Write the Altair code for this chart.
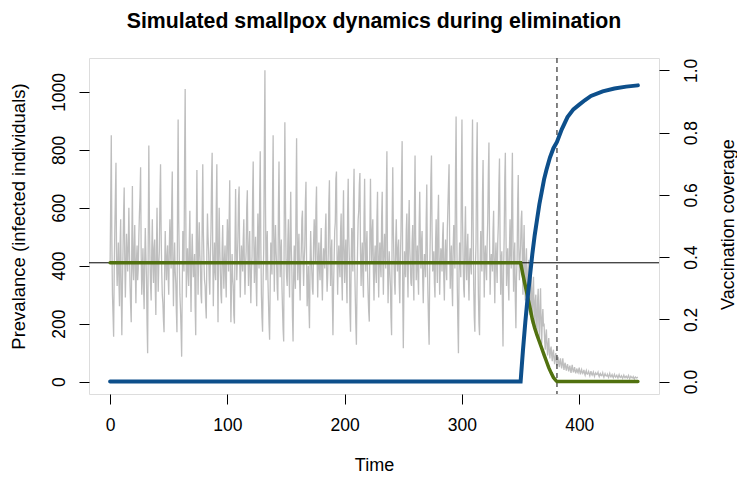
import altair as alt
import pandas as pd

# ---- data ----
# prevalence at integer times 0..450
prevalence = [
    410, 850, 300, 155, 520, 755, 330, 480, 260, 560,
    160, 450, 670, 290, 510, 380, 600, 330, 205, 675,
    350, 540, 270, 470, 390, 580, 740, 300, 460, 250,
    530, 360, 98, 815, 420, 280, 560, 340, 490, 230,
    600, 310, 450, 750, 380, 270, 170, 520, 350, 470,
    300, 560, 390, 725, 260, 480, 340, 170, 905, 420,
    250, 86, 520, 380, 1010, 290, 460, 330, 590, 240,
    510, 360, 440, 160, 730, 300, 550, 390, 270, 750,
    420, 330, 218, 580, 450, 300, 520, 790, 260, 480,
    350, 750, 205, 600, 380, 270, 540, 320, 470, 290,
    560, 380, 695, 205, 440, 330, 200, 665, 350, 500,
    673, 290, 470, 380, 560, 300, 450, 660, 330, 520,
    270, 430, 760, 340, 500, 260, 580, 390, 795, 300,
    172, 460, 1075, 350, 520, 280, 144, 480, 370, 850,
    310, 540, 400, 280, 760, 360, 490, 250, 138, 895,
    420, 330, 560, 290, 655, 380, 138, 470, 320, 840,
    350, 510, 280, 450, 590, 330, 470, 690, 260, 400,
    184, 520, 380, 300, 560, 410, 673, 290, 480, 350,
    530, 280, 460, 390, 580, 310, 440, 695, 330, 490,
    160, 420, 550, 725, 300, 470, 360, 580, 280, 660,
    340, 490, 270, 700, 420, 172, 530, 380, 735, 300,
    127, 460, 590, 720, 330, 480, 290, 700, 380, 520,
    300, 207, 700, 410, 560, 280, 470, 340, 655, 290,
    480, 360, 655, 300, 510, 390, 795, 270, 450, 330,
    160, 740, 420, 300, 560, 380, 490, 270, 520, 830,
    115, 450, 360, 580, 290, 627, 400, 330, 540, 280,
    780, 350, 470, 300, 655, 390, 520, 270, 440, 360,
    680, 300, 127, 510, 780, 380, 450, 290, 560, 340,
    645, 300, 460, 380, 550, 280, 490, 350, 600, 750,
    320, 470, 260, 540, 390, 915, 330, 98, 480, 360,
    905, 420, 290, 605, 350, 510, 280, 460, 370, 905,
    330, 172, 480, 895, 300, 160, 520, 380, 765, 290,
    470, 350, 560, 825, 300, 440, 380, 590, 270, 480,
    340, 540, 770, 300, 450, 121, 500, 790, 330, 460,
    280, 560, 390, 790, 310, 480, 184, 420, 713, 350,
    470, 590, 300, 540, 280, 460, 250, 420, 230, 380,
    200, 362, 180, 300, 160, 320, 140, 322, 130, 250,
    200, 110, 180, 90, 150, 80, 121, 70, 110, 60,
    98, 55, 85, 50, 80, 45, 80, 40, 65, 38,
    60, 35, 55, 30, 58, 32, 50, 28, 45, 30,
    48, 25, 42, 28, 40, 22, 38, 26, 35, 20,
    36, 22, 33, 18, 30, 24, 32, 17, 28, 20,
    30, 15, 27, 19, 25, 14, 28, 16, 24, 13,
    25, 15, 22, 12, 24, 14, 20, 11, 22, 13,
    19, 12, 21, 10, 18, 13, 17, 9, 16, 12,
    15,
]
# prevalence at half times 0.5..449.5
prevalence_half = [
    620, 480, 230, 380, 640, 420, 400, 350, 470, 300,
    330, 580, 420, 400, 440, 470, 450, 260, 480, 390,
    460, 380, 420, 350, 500, 640, 430, 390, 330, 420,
    440, 200, 480, 560, 330, 450, 410, 460, 320, 450,
    430, 400, 640, 520, 300, 210, 390, 420, 430, 360,
    470, 450, 600, 420, 400, 380, 240, 620, 560, 300,
    180, 330, 440, 760, 600, 400, 380, 480, 380, 420,
    420, 390, 260, 500, 470, 460, 440, 300, 560, 520,
    350, 260, 450, 500, 350, 430, 700, 450, 400, 380,
    600, 420, 450, 460, 300, 460, 400, 420, 360, 460,
    480, 560, 400, 320, 360, 230, 480, 470, 420, 630,
    420, 400, 420, 490, 390, 400, 600, 440, 460, 360,
    380, 640, 500, 420, 340, 450, 450, 640, 480, 220,
    360, 800, 600, 460, 360, 200, 340, 420, 640, 500,
    460, 450, 320, 600, 500, 440, 330, 180, 600, 620,
    360, 480, 390, 500, 460, 220, 360, 360, 620, 520,
    450, 360, 400, 560, 420, 420, 620, 420, 320, 260,
    400, 430, 320, 480, 500, 600, 420, 420, 390, 460,
    360, 400, 420, 520, 400, 360, 620, 460, 450, 280,
    320, 520, 700, 420, 420, 400, 520, 360, 520, 450,
    440, 360, 580, 500, 240, 400, 480, 620, 420, 200,
    320, 560, 680, 440, 420, 360, 560, 480, 460, 380,
    240, 520, 500, 520, 380, 420, 380, 560, 420, 420,
    400, 560, 420, 440, 440, 640, 420, 380, 380, 220,
    560, 520, 340, 480, 440, 460, 340, 420, 700, 300,
    320, 400, 520, 400, 520, 460, 340, 480, 360, 600,
    500, 420, 360, 540, 480, 480, 360, 380, 420, 560,
    420, 200, 380, 700, 520, 400, 340, 480, 420, 560,
    420, 400, 440, 500, 360, 420, 400, 520, 680, 480,
    420, 330, 460, 480, 720, 560, 200, 380, 420, 720,
    560, 320, 500, 420, 460, 360, 420, 400, 720, 560,
    220, 400, 760, 480, 200, 400, 420, 640, 480, 420,
    400, 480, 720, 500, 400, 420, 520, 380, 420, 400,
    480, 680, 480, 420, 260, 380, 700, 520, 420, 340,
    460, 440, 640, 480, 420, 280, 360, 620, 460, 420,
    560, 420, 460, 380, 400, 330, 380, 300, 340, 260,
    320, 240, 280, 200, 280, 200, 260, 200, 220, 190,
    140, 160, 120, 130, 100, 110, 90, 100, 80, 85,
    70, 75, 62, 70, 58, 65, 55, 58, 48, 52,
    45, 48, 40, 46, 42, 40, 36, 38, 34, 40,
    33, 36, 32, 34, 28, 32, 27, 30, 26, 29,
    26, 28, 24, 26, 25, 27, 22, 25, 21, 24,
    20, 22, 21, 20, 18, 22, 19, 20, 17, 19,
    18, 19, 16, 18, 17, 16, 15, 17, 16, 17,
    14, 16, 15, 14, 15, 13, 12, 14, 13, 14,
]

mean_time = [0, 350, 352, 354, 356, 358, 360, 362, 364, 366, 368, 370,
             372, 374, 376, 378, 380, 381, 450]
mean_prev = [410, 410, 368, 330, 292, 255, 215, 185, 160, 138, 115, 92,
             70, 48, 30, 14, 4, 0, 0]

vacc_time = [0, 350, 351, 352, 354, 356, 358, 360, 362, 364, 366, 368, 370,
             372, 375, 378, 381, 385, 390, 395, 400, 405, 410, 420, 430,
             440, 450]
vacc_cov = [0, 0, 0.05, 0.10, 0.19, 0.27, 0.34, 0.41, 0.47, 0.52, 0.57,
            0.61, 0.65, 0.68, 0.72, 0.75, 0.77, 0.81, 0.85, 0.875, 0.89,
            0.905, 0.918, 0.933, 0.942, 0.948, 0.952]

threshold = [410]
elimination_time = [381]

x_ticks = [0, 100, 200, 300, 400]
left_ticks = [0, 200, 400, 600, 800, 1000]
right_ticks = [0.0, 0.2, 0.4, 0.6, 0.8, 1.0]

# ---- tables ----
rows_t, rows_v = [], []
for i in range(len(prevalence_half)):
    rows_t += [i, i + 0.5]
    rows_v += [prevalence[i], prevalence_half[i]]
rows_t.append(len(prevalence_half))
rows_v.append(prevalence[len(prevalence_half)])

df_prev = pd.DataFrame({"t": rows_t, "v": rows_v})
df_mean = pd.DataFrame({"t": mean_time, "v": mean_prev})
df_vacc = pd.DataFrame({"t": vacc_time, "c": vacc_cov})
df_thr = pd.DataFrame({"v": threshold})
df_elim = pd.DataFrame({"t": elimination_time})

FONT = "Liberation Sans"
GRAY = "#BEBEBE"
GREEN = "#51710F"
BLUE = "#0D4F8B"

xscale = alt.Scale(domain=[-18, 468], nice=False, zero=False)
lscale = alt.Scale(domain=[-43, 1117], nice=False, zero=False)
rscale = alt.Scale(domain=[-0.04, 1.04], nice=False, zero=False)

xaxis = alt.Axis(
    values=x_ticks, title="Time", grid=False, domain=False,
    tickSize=10, tickColor="black", tickWidth=1,
    labelFontSize=17.5, labelFont=FONT, labelColor="black",
    labelBaseline="alphabetic", labelPadding=26.5, labelFlush=False,
    titleFontSize=18, titleFont=FONT, titleFontWeight="normal", titleColor="black",
    titleX=285, titleY=76, titleBaseline="alphabetic", titleAlign="center",
)
laxis = alt.Axis(
    values=left_ticks, format="d", title="Prevalance (infected individuals)",
    grid=False, domain=False, tickSize=10, tickColor="black", tickWidth=1,
    labelFontSize=17.5, labelFont=FONT, labelColor="black",
    labelAngle=270, labelAlign="center", labelBaseline="alphabetic",
    labelPadding=15, labelFlush=False,
    titleFontSize=18.5, titleFont=FONT, titleFontWeight="normal", titleColor="black",
    titleAngle=270, titleX=-65, titleY=158, titleBaseline="alphabetic",
    titleAlign="center",
)
raxis = alt.Axis(
    values=right_ticks, format=".1f", orient="right", title="Vaccination coverage",
    grid=False, domain=False, tickSize=10, tickColor="black", tickWidth=1,
    labelFontSize=17.5, labelFont=FONT, labelColor="black",
    labelAngle=270, labelAlign="center", labelBaseline="alphabetic",
    labelPadding=27, labelFlush=False,
    titleFontSize=18, titleFont=FONT, titleFontWeight="normal", titleColor="black",
    titleAngle=270, titleX=74, titleY=166, titleBaseline="alphabetic",
    titleAlign="center",
)

gray = alt.Chart(df_prev).mark_line(color=GRAY, strokeWidth=1.3).encode(
    x=alt.X("t:Q", scale=xscale, axis=xaxis),
    y=alt.Y("v:Q", scale=lscale, axis=laxis),
)
hline = alt.Chart(df_thr).mark_rule(color="black", strokeWidth=1).encode(
    y=alt.Y("v:Q", scale=lscale),
)
vline = alt.Chart(df_elim).mark_rule(color="#333333", strokeWidth=1.2,
                                     strokeDash=[5, 4]).encode(
    x=alt.X("t:Q", scale=xscale),
)
green = alt.Chart(df_mean).mark_line(color=GREEN, strokeWidth=3.5,
                                     strokeCap="round").encode(
    x=alt.X("t:Q", scale=xscale),
    y=alt.Y("v:Q", scale=lscale),
)
blue = alt.Chart(df_vacc).mark_line(color=BLUE, strokeWidth=4,
                                    strokeCap="round").encode(
    x=alt.X("t:Q", scale=xscale),
    y=alt.Y("c:Q", scale=rscale, axis=raxis),
)

left = alt.layer(gray, hline, vline, green)

chart = alt.layer(left, blue).resolve_scale(y="independent").properties(
    width=570,
    height=336,
    autosize=alt.AutoSizeParams(type="none"),
    padding={"left": 81, "top": 50, "right": 78, "bottom": 80},
    title=alt.TitleParams(
        "Simulated smallpox dynamics during elimination",
        font=FONT, fontSize=21.3, fontWeight="bold", color="black",
        anchor="middle", baseline="alphabetic", offset=8,
    ),
).configure_view(stroke="black", strokeWidth=1).configure(background="white")

chart.save("out.html", embed_options={"renderer": "svg", "actions": False})
